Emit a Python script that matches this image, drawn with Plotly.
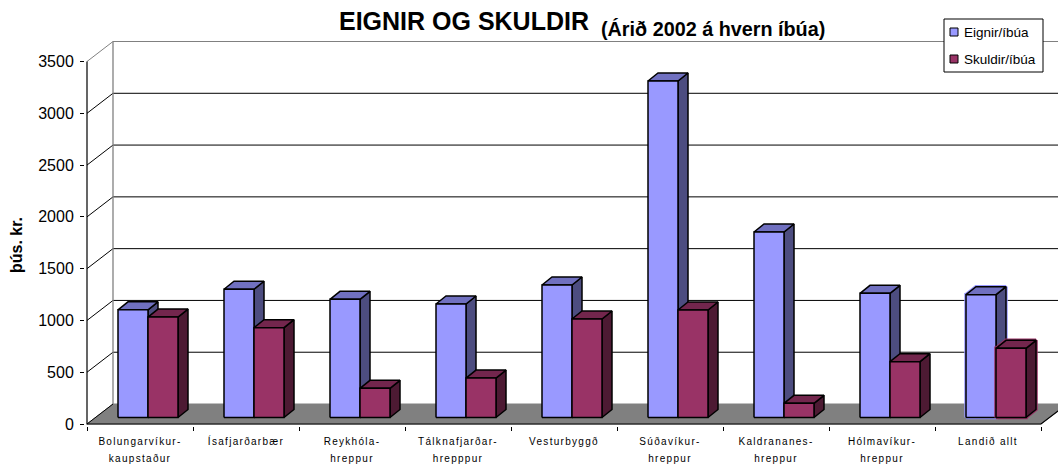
import plotly.graph_objects as go

# gildi lesin af myndinni
flokkar = [
    "Bolungarvíkur-<br>kaupstaður", "Ísafjarðarbær", "Reykhóla-<br>hreppur",
    "Tálknafjarðar-<br>hrepppur", "Vesturbyggð", "Súðavíkur-<br>hreppur",
    "Kaldrananes-<br>hreppur", "Hólmavíkur-<br>hreppur", "Landið allt",
]
eignir = [1040, 1238, 1141, 1096, 1279, 3249, 1791, 1199, 1186]
skuldir = [970, 867, 282, 381, 951, 1038, 137, 539, 668]
y_merki = [0, 500, 1000, 1500, 2000, 2500, 3000, 3500]

W, H = 1058, 464
PX_X = 106.0      # px per flokkur
PX_Y = 0.10357    # px per gildi
ML, MR, MT, MB = 85, 0, 41, 38

# dypt i einingum asa
DYPT_X = 26 / PX_X
DYPT_Y = 20 / PX_Y
BAR_X = 10 / PX_X
BAR_Y = 8 / PX_Y
LYFT = 6.5 / PX_Y
BAR_B = 30 / PX_X
BAR_START = 31 / PX_X


def flotur(hlid, gildi):
    """Skilar x, y fyrir framhlid, hlid og topp allra sula i einni rod."""
    fram, sida, topp = ([], []), ([], []), ([], [])
    for i, v in enumerate(gildi):
        x0 = i + BAR_START + hlid * BAR_B
        x1 = x0 + BAR_B
        y0 = LYFT
        y1 = LYFT + v
        fram[0].extend([x0, x1, x1, x0, x0, None])
        fram[1].extend([y0, y0, y1, y1, y0, None])
        sida[0].extend([x1, x1 + BAR_X, x1 + BAR_X, x1, x1, None])
        sida[1].extend([y0, y0 + BAR_Y, y1 + BAR_Y, y1, y0, None])
        topp[0].extend([x0, x1, x1 + BAR_X, x0 + BAR_X, x0, None])
        topp[1].extend([y1, y1, y1 + BAR_Y, y1 + BAR_Y, y1, None])
    return fram, sida, topp


def pxx(p):
    return (p - ML) / (W - ML - MR)


def pxy(p):
    return 1 - (p - MT) / (H - MT - MB)


fig = go.Figure()
n = len(flokkar)

# golf
fig.add_trace(go.Scatter(
    x=[0, DYPT_X, n + DYPT_X, n, 0], y=[0, DYPT_Y, DYPT_Y, 0, 0],
    mode="lines", fill="toself", fillcolor="#808080",
    line=dict(color="#808080", width=1), hoverinfo="skip", showlegend=False,
))

# veggur og hnitalinur
for v in y_merki[1:]:
    litur = "#808080" if v == y_merki[-1] else "black"
    fig.add_trace(go.Scatter(
        x=[0, DYPT_X, n + DYPT_X], y=[v, v + DYPT_Y, v + DYPT_Y],
        mode="lines", line=dict(color=litur, width=1), hoverinfo="skip", showlegend=False,
    ))
fig.add_trace(go.Scatter(
    x=[DYPT_X, DYPT_X], y=[DYPT_Y, y_merki[-1] + DYPT_Y],
    mode="lines", line=dict(color="#808080", width=1.3), hoverinfo="skip", showlegend=False,
))

# asar
fig.add_trace(go.Scatter(
    x=[0, 0, n, n + DYPT_X], y=[y_merki[-1], 0, 0, DYPT_Y],
    mode="lines", line=dict(color="black", width=1.2), hoverinfo="skip", showlegend=False,
))
fig.add_trace(go.Scatter(
    x=[0, DYPT_X], y=[0, DYPT_Y],
    mode="lines", line=dict(color="black", width=1), hoverinfo="skip", showlegend=False,
))

# sulur
rodir = [
    ("Eignir/íbúa", eignir, 0, "#9999FF", "#4D4D80", "#7070C0"),
    ("Skuldir/íbúa", skuldir, 1, "#993366", "#4D1A33", "#73264D"),
]
for nafn, gildi, hlid, lit_fram, lit_sida, lit_topp in rodir:
    fram, sida, topp = flotur(hlid, gildi)
    # Landid allt er merkt med ljosri brun i frummyndinni
    bil = 6 * (n - 1)
    for xs, ys in (sida, topp, fram):
        fig.add_trace(go.Scatter(
            x=xs[bil:], y=ys[bil:], mode="lines",
            line=dict(color=lit_fram, width=3.5), hoverinfo="skip", showlegend=False,
        ))
    for (xs, ys), litur in [(sida, lit_sida), (topp, lit_topp), (fram, lit_fram)]:
        fig.add_trace(go.Scatter(
            x=xs, y=ys, name=nafn, mode="lines", fill="toself", fillcolor=litur,
            line=dict(color="black", width=1.5), hoverinfo="skip", showlegend=False,
        ))

# skyringar
shapes = [dict(type="rect", xref="paper", yref="paper", x0=pxx(944), x1=pxx(1043),
               y0=pxy(19), y1=pxy(72), line=dict(color="black", width=1), fillcolor="white")]
annotations = [
    dict(xref="paper", yref="paper", x=pxx(599), y=pxy(29), text="<b>(Árið 2002 á hvern íbúa)</b>",
         showarrow=False, xanchor="left", yanchor="middle", font=dict(size=19.8, color="black")),
    dict(xref="paper", yref="paper", x=pxx(17), y=pxy(245), text="<b>þús. kr.</b>", textangle=-90,
         showarrow=False, xanchor="center", yanchor="middle", font=dict(size=16, color="black")),
]
for (nafn, gildi, hlid, lit_fram, _, _), midja in zip(rodir, [32, 59]):
    shapes.append(dict(type="rect", xref="paper", yref="paper", x0=pxx(950), x1=pxx(958),
                       y0=pxy(midja - 4), y1=pxy(midja + 4),
                       line=dict(color="black", width=1), fillcolor=lit_fram))
    annotations.append(dict(xref="paper", yref="paper", x=pxx(962), y=pxy(midja),
                            text=nafn, showarrow=False, xanchor="left", yanchor="middle",
                            font=dict(size=13.5, color="black")))

stilling = "font-size:10px;letter-spacing:1.3px"
merki_x = []
for f in flokkar:
    merki_x.append("<br>".join(f'<span style="{stilling}">{t}</span>' for t in f.split("<br>")))

fig.update_layout(
    width=W, height=H,
    margin=dict(l=ML, r=MR, t=MT, b=MB, pad=0),
    paper_bgcolor="white", plot_bgcolor="white",
    font=dict(family="Liberation Sans, Arial, sans-serif", color="black"),
    showlegend=False,
    shapes=shapes, annotations=annotations,
    title=dict(
        text="<b>EIGNIR OG SKULDIR</b>",
        x=464 / W, xanchor="center", y=1 - 21 / H, yanchor="middle",
        font=dict(size=25),
    ),
    xaxis=dict(
        range=[-(87 - ML) / PX_X, (W - 87) / PX_X],
        tickvals=[i + 0.5 for i in range(n)], ticktext=merki_x,
        ticks="", showgrid=False, zeroline=False, showline=False,
        tickfont=dict(size=13.5), tickangle=0, ticklabelstandoff=4,
        minor=dict(tickvals=list(range(n + 1)), ticks="outside", ticklen=4,
                   tickcolor="black", tickwidth=1, showgrid=False),
    ),
    yaxis=dict(
        range=[-(H - MB - 424) / PX_Y, (424 - MT) / PX_Y],
        tickvals=y_merki, ticks="outside", ticklen=4, tickcolor="black", tickwidth=1,
        showgrid=False, zeroline=False, showline=False,
        tickfont=dict(size=16), ticklabelstandoff=3,
    ),
)

fig.write_html("out.html", config={"displayModeBar": False},
               post_script="document.body.style.margin='0';")
